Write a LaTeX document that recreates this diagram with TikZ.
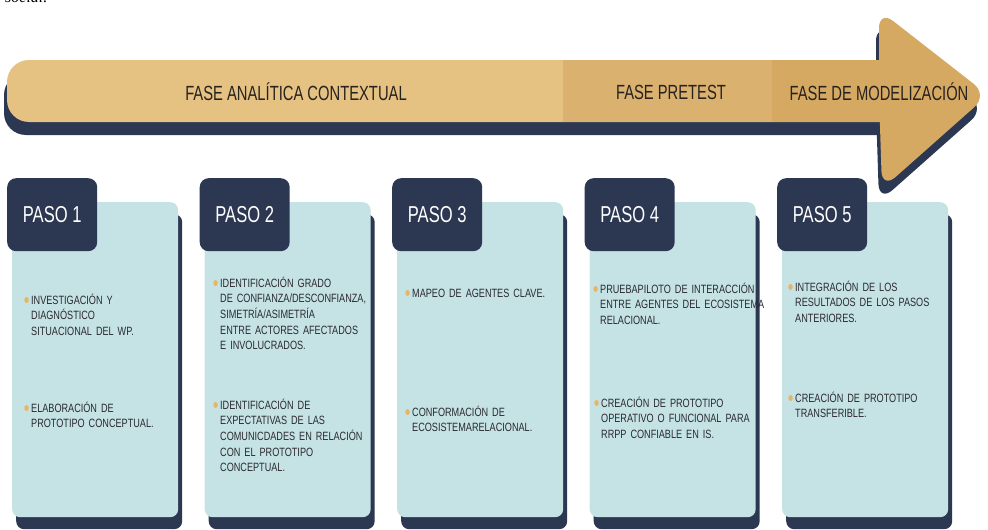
\documentclass[tikz,border=0pt]{standalone}
\usepackage{fontspec}
\setmainfont{Liberation Sans}[FakeStretch=0.76]
\newfontfamily\narrowfont{Liberation Sans}[FakeStretch=0.72]
\newfontfamily\cortefont{Liberation Serif}
\usetikzlibrary{positioning,shadows,shapes.geometric}

\definecolor{navy}{RGB}{44,55,82}
\definecolor{faseA}{RGB}{229,193,130}
\definecolor{faseB}{RGB}{218,177,110}
\definecolor{faseC}{RGB}{214,169,99}
\definecolor{cardblue}{RGB}{197,226,228}
\definecolor{bullet}{RGB}{228,182,102}
\definecolor{textgrey}{RGB}{42,42,48}
\definecolor{textdark}{RGB}{38,34,30}

\tikzset{
  pasobox/.style={fill=navy, rounded corners=9pt, minimum width=90pt, minimum height=73pt,
    anchor=north west, text=white, font=\narrowfont\fontsize{23}{23}\selectfont},
  card/.style={fill=cardblue, rounded corners=8pt, minimum width=166pt, minimum height=315pt,
    anchor=north west, drop shadow={shadow xshift=4pt, shadow yshift=-12pt, fill=navy, opacity=1}},
  item/.style={anchor=base west, inner sep=0pt, text width=175pt, align=left,
    text=textgrey, font=\fontsize{12}{15.6}\selectfont},
  dot/.style={ellipse, fill=bullet, inner sep=0pt, minimum width=4.5pt, minimum height=6pt},
  fase/.style={text=textdark, font=\narrowfont\fontsize{20.5}{21}\selectfont}
}

\begin{document}
\begin{tikzpicture}[x=1pt,y=-1pt]
\useasboundingbox (0,0) rectangle (988,530);

% texto cortado arriba
\node[anchor=base west, inner sep=0pt, font=\cortefont\itshape\fontsize{16}{16}\selectfont] (corte) at (5,2) {social.};

% flecha de fases (sombra)
\begin{scope}[shift={(-3,13)}]
  \fill[navy, rounded corners=22] (7,60) rectangle (930,122);
  \fill[navy, rounded corners=18] (879,95) -- (879,10) -- (988,95) -- (882,189) -- cycle;
\end{scope}
% flecha de fases
\fill[faseA, rounded corners=22] (7,60) rectangle (930,122);
\fill[faseB] (563,60) rectangle (772,122);
\fill[faseC] (772,60) rectangle (930,122);
\fill[faseC, rounded corners=18] (879,95) -- (879,10) -- (988,95) -- (882,189) -- cycle;

\node[fase] (fa) at (296,92) {FASE ANALÍTICA CONTEXTUAL};
\node[fase] (fp) at (671,92) {FASE PRETEST};
\node[fase] (fm) at (879,92) {FASE DE MODELIZACIÓN};

% tarjetas de los pasos
\foreach \i in {1,...,5}{
  \node[card] (c\i) at ({12+192.5*(\i-1)},202) {};
  \node[pasobox] (p\i) at ({7+192.5*(\i-1)},178) {PASO \i};
}

% paso 1
\node[item] (i11) at (31,304.3) {INVESTIGACIÓN Y\\ DIAGNÓSTICO\\ SITUACIONAL DEL WP.};
\node[item] (i12) at (31,412.3) {ELABORACIÓN DE\\ PROTOTIPO CONCEPTUAL.};
% paso 2
\node[item] (i21) at (220,287.3) {IDENTIFICACIÓN GRADO\\ DE CONFIANZA/DESCONFIANZA,\\ SIMETRÍA/ASIMETRÍA\\ ENTRE ACTORES AFECTADOS\\ E INVOLUCRADOS.};
\node[item] (i22) at (220,409.3) {IDENTIFICACIÓN DE\\ EXPECTATIVAS DE LAS\\ COMUNICDADES EN RELACIÓN\\ CON EL PROTOTIPO\\ CONCEPTUAL.};
% paso 3
\node[item] (i31) at (412,297.3) {MAPEO DE AGENTES CLAVE.};
\node[item] (i32) at (412,416.3) {CONFORMACIÓN DE\\ ECOSISTEMARELACIONAL.};
% paso 4
\node[item] (i41) at (600,293.3) {PRUEBAPILOTO DE INTERACCIÓN\\ ENTRE AGENTES DEL ECOSISTEMA\\ RELACIONAL.};
\node[item] (i42) at (601,407.3) {CREACIÓN DE PROTOTIPO\\ OPERATIVO O FUNCIONAL PARA\\ RRPP CONFIABLE EN IS.};
% paso 5
\node[item] (i51) at (795,291.3) {INTEGRACIÓN DE LOS\\ RESULTADOS DE LOS PASOS\\ ANTERIORES.};
\node[item] (i52) at (795,402.3) {CREACIÓN DE PROTOTIPO\\ TRANSFERIBLE.};

% vinietas
\foreach \n in {i11,i12,i21,i22,i31,i32,i41,i42,i51,i52}
  \node[dot, left=2pt of \n.base west, yshift=4.3pt] (d\n) {};

\end{tikzpicture}
\end{document}
